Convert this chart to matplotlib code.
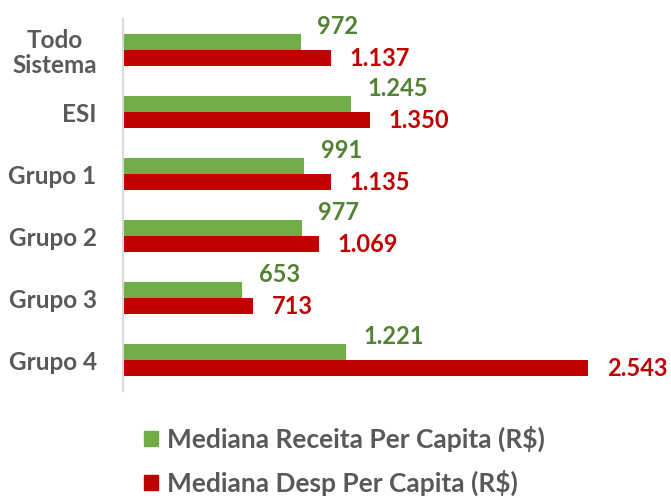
import matplotlib
matplotlib.use("Agg")
from matplotlib import pyplot as plt
from matplotlib.patches import Patch

categorias = ["Todo\nSistema", "ESI", "Grupo 1", "Grupo 2", "Grupo 3", "Grupo 4"]
receita = [972, 1245, 991, 977, 653, 1221]
despesa = [1137, 1350, 1135, 1069, 713, 2543]
rotulos_receita = ["972", "1.245", "991", "977", "653", "1.221"]
rotulos_despesa = ["1.137", "1.350", "1.135", "1.069", "713", "2.543"]

verde = "#70AD47"
verde_txt = "#548235"
vermelho = "#C00000"
cinza = "#595959"

plt.rcParams["font.family"] = ["Lato", "DejaVu Sans"]
plt.rcParams["font.weight"] = "bold"

fig = plt.figure(figsize=(6.71, 4.98), dpi=100)
ax = fig.add_axes([123 / 671, 1 - 391 / 498, 1 - 123 / 671, 372 / 498])

pos = list(range(len(categorias)))
h = 0.26
ax.barh([p - h / 2 for p in pos], receita, height=h, color=verde)
ax.barh([p + h / 2 for p in pos], despesa, height=h, color=vermelho)

for p, v, t in zip(pos, receita, rotulos_receita):
    ax.annotate(t, (v, p - h / 2), xytext=(12, 11), textcoords="offset points",
                ha="left", va="center", color=verde_txt, fontsize=17, fontweight="bold")
for p, v, t in zip(pos, despesa, rotulos_despesa):
    ax.annotate(t, (v, p + h / 2), xytext=(13.5, 0), textcoords="offset points",
                ha="left", va="center", color=vermelho, fontsize=17, fontweight="bold")

ax.set_ylim(len(categorias) - 0.5, -0.5)
ax.set_xlim(0, (671 - 123) / 0.1829)
ax.set_yticks(pos)
ax.set_yticklabels(categorias, fontsize=17.5, color=cinza, fontweight="bold")
for lbl in ax.get_yticklabels():
    lbl.set_multialignment("center")
    lbl.set_linespacing(1.1)
ax.tick_params(axis="y", length=0, pad=19)
ax.set_xticks([])
for s in ["top", "right", "bottom"]:
    ax.spines[s].set_visible(False)
ax.spines["left"].set_color("#D9D9D9")
ax.spines["left"].set_linewidth(1.5)

handles = [Patch(color=verde), Patch(color=vermelho)]
fig.legend(handles, ["Mediana Receita Per Capita (R$)", "Mediana Desp Per Capita (R$)"],
           loc="center left", bbox_to_anchor=(144 / 671, 1 - 461 / 498), frameon=False,
           labelcolor=cinza, handlelength=0.52, handleheight=0.48, borderpad=0,
           borderaxespad=0, handletextpad=0.34, labelspacing=0.65,
           prop={"weight": "bold", "size": 19})

fig.savefig("out.png", dpi=100)
